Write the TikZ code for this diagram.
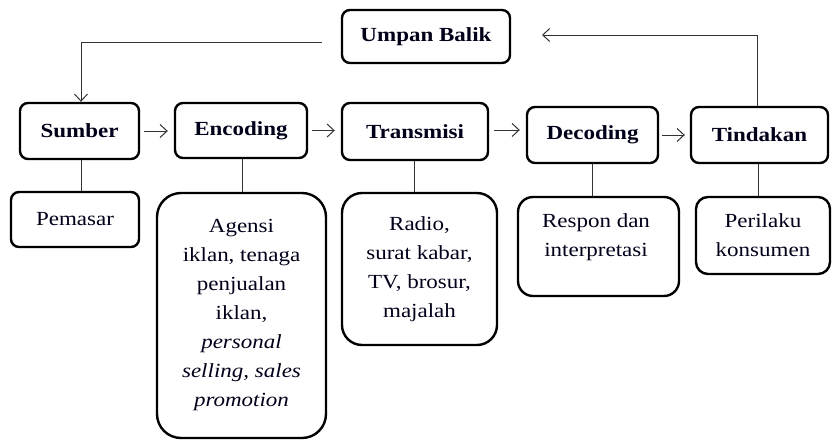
\documentclass[tikz,border=0pt]{standalone}
\usepackage{fontspec}
\setmainfont{Liberation Serif}[FakeStretch=1.15]
\usetikzlibrary{arrows.meta}
\begin{document}
\begin{tikzpicture}[x=1pt,y=-1pt,
  every node/.style={font=\fontsize{20}{29}\selectfont, text=black!90!blue},
  topbox/.style={draw=black, line width=2.4pt, rounded corners=8pt, font=\fontsize{20}{29}\selectfont\bfseries, inner sep=0pt},
  subbox/.style={draw=black, line width=2.4pt, inner sep=0pt, align=center},
  link/.style={draw=black!80, line width=1pt},
  arr/.style={link, -{Straight Barb[length=7pt,width=13pt,line width=1pt]}}
]
\useasboundingbox (0,0) rectangle (832,439);
% top row
\node[topbox, minimum width=168pt, minimum height=53pt] (umpan) at (426,36.5) {Umpan Balik};
\node[topbox, minimum width=119pt, minimum height=56pt] (sumber) at (79.5,131) {Sumber};
\node[topbox, minimum width=132pt, minimum height=55pt] (encoding) at (241,130.5) {Encoding};
\node[topbox, minimum width=146pt, minimum height=57pt] (transmisi) at (415,131.5) {Transmisi};
\node[topbox, minimum width=131pt, minimum height=56pt] (decoding) at (592.5,135) {Decoding};
\node[topbox, minimum width=137pt, minimum height=56pt] (tindakan) at (759.5,135) {Tindakan};
% sub boxes
\node[subbox, rounded corners=8pt, minimum width=128pt, minimum height=55pt] (pemasar) at (75,219.5) {Pemasar};
\node[subbox, rounded corners=24pt, minimum width=169pt, minimum height=245pt] (agensi) at (241.5,315.5)
  {Agensi\\iklan, tenaga\\penjualan\\iklan,\\\textit{personal}\\\textit{selling, sales}\\\textit{promotion}};
\node[subbox, rounded corners=20pt, minimum width=155pt, minimum height=152pt] (radio) at (419.5,269)
  {Radio,\\surat kabar,\\TV, brosur,\\majalah};
\node[subbox, rounded corners=15pt, minimum width=161pt, minimum height=99pt] (respon) at (598.5,246.5) {};
\node[align=center, inner sep=0pt] (respontext) at (596,237.5) {Respon dan\\interpretasi};
\node[subbox, rounded corners=12pt, minimum width=134pt, minimum height=77pt] (perilaku) at (763,235.5)
  {Perilaku\\konsumen};
% horizontal arrows
\draw[arr, shorten <=4pt, shorten >=6pt] (sumber.east) -- (sumber.east -| encoding.west);
\draw[arr, shorten <=4pt, shorten >=6pt] (encoding.east) -- (encoding.east -| transmisi.west);
\draw[arr, shorten <=5pt, shorten >=6pt] ([yshift=1.5pt]transmisi.east) -- ([yshift=1.5pt]transmisi.east -| decoding.west);
\draw[arr, shorten <=3pt, shorten >=5pt] (decoding.east) -- (decoding.east -| tindakan.west);
% vertical links
\draw[link] ([xshift=1.5pt]sumber.south) -- ([xshift=1.5pt]sumber.south |- pemasar.north);
\draw[link] ([xshift=1pt]encoding.south) -- ([xshift=1pt]encoding.south |- agensi.north);
\draw[link] ([xshift=-1pt]transmisi.south) -- ([xshift=-1pt]transmisi.south |- radio.north);
\draw[link] (decoding.south) -- (decoding.south |- respon.north);
\draw[link] ([xshift=-1.5pt]tindakan.south) -- ([xshift=-1.5pt]tindakan.south |- perilaku.north);
% feedback
\coordinate (fbstart) at (322,42);
\coordinate (fbend) at (542,35);
\draw[arr] (fbstart) -| ([xshift=1.5pt]sumber.north);
\draw[arr] ([xshift=-2.5pt]tindakan.north) |- (fbend);
\end{tikzpicture}
\end{document}
